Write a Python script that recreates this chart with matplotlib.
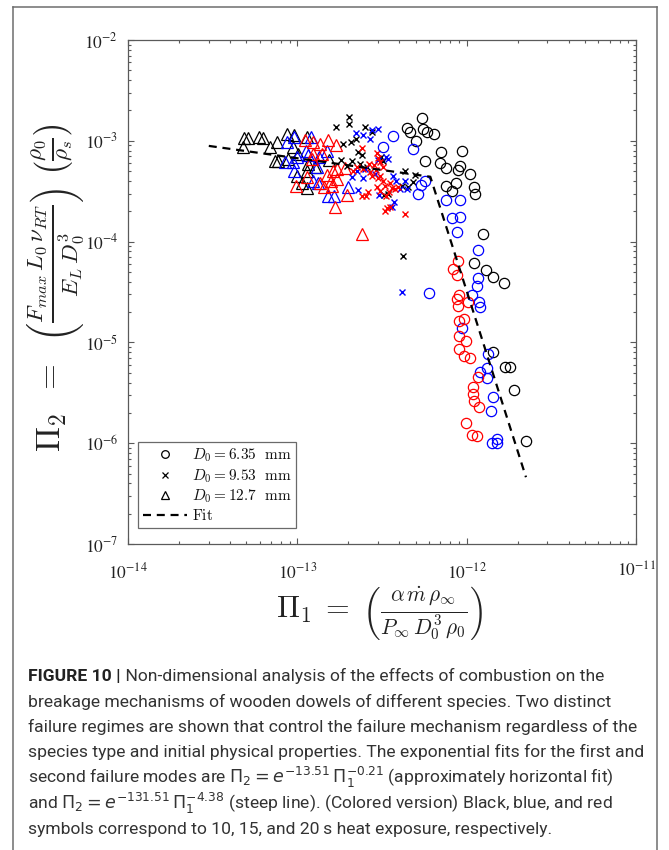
import matplotlib
matplotlib.use("Agg")
import matplotlib.pyplot as plt
from matplotlib.lines import Line2D
from matplotlib.ticker import FixedLocator, FixedFormatter, LogLocator, NullFormatter

# ---------------- data ----------------
# D0 = 6.35 mm (circles)
pi1_d635_10s = [5.45e-13, 4.45e-13, 4.63e-13, 5.53e-13, 5.84e-13, 6.42e-13, 5.02e-13, 7.06e-13, 9.4e-13, 5.68e-13,
                6.96e-13, 7.56e-13, 9.14e-13, 8.9e-13, 1.05e-12, 7.56e-13, 8.65e-13, 8.2e-13, 1.11e-12, 1.12e-12,
                1.25e-12, 1.11e-12, 1.30e-12, 1.43e-12, 1.66e-12, 1.43e-12, 1.69e-12, 1.80e-12, 1.91e-12, 2.24e-12]
pi2_d635_10s = [1.68e-3, 1.34e-3, 1.22e-3, 1.31e-3, 1.22e-3, 1.17e-3, 1.0e-3, 7.7e-4, 7.9e-4, 6.3e-4,
                6.0e-4, 5.4e-4, 5.6e-4, 5.1e-4, 4.7e-4, 3.6e-4, 3.8e-4, 3.2e-4, 3.5e-4, 3.0e-4,
                1.19e-4, 6.1e-5, 5.2e-5, 4.5e-5, 3.9e-5, 8.0e-6, 5.7e-6, 5.7e-6, 3.4e-6, 1.05e-6]
pi1_d635_15s = [3.68e-13, 3.21e-13, 4.82e-13, 5.68e-13, 5.38e-13, 5.16e-13, 7.56e-13, 9.14e-13, 8.2e-13, 9.14e-13,
                8.77e-13, 1.17e-12, 1.17e-12, 1.15e-12, 1.08e-12, 1.18e-12, 1.20e-12, 6.0e-13, 9.4e-13, 1.34e-12,
                1.32e-12, 1.20e-12, 1.32e-12, 1.43e-12, 1.39e-12, 1.51e-12, 1.41e-12, 1.51e-12]
pi2_d635_15s = [1.12e-3, 8.7e-4, 8.3e-4, 4.0e-4, 3.65e-4, 3.0e-4, 2.6e-4, 2.6e-4, 1.7e-4, 1.75e-4,
                1.25e-4, 8.3e-5, 4.35e-5, 3.6e-5, 2.95e-5, 2.5e-5, 2.25e-5, 3.1e-5, 1.39e-5, 7.7e-6,
                5.6e-6, 5.1e-6, 4.4e-6, 2.9e-6, 2.1e-6, 1.1e-6, 1.0e-6, 1.0e-6]
pi1_d635_20s = [9.0e-13, 8.77e-13, 1.02e-12, 8.9e-13, 9.0e-13, 9.66e-13, 9.0e-13, 9.9e-13, 9.0e-13, 9.66e-13,
                1.05e-12, 1.17e-12, 1.09e-12, 1.09e-12, 1.11e-12, 1.18e-12, 9.9e-13, 1.08e-12, 1.15e-12, 8.9e-13,
                8.3e-13, 8.77e-13]
pi2_d635_20s = [2.95e-5, 2.7e-5, 2.5e-5, 2.3e-5, 1.63e-5, 1.7e-5, 1.16e-5, 1.03e-5, 8.6e-6, 7.3e-6,
                7.0e-6, 4.5e-6, 3.6e-6, 3.1e-6, 2.6e-6, 2.3e-6, 1.6e-6, 1.2e-6, 1.18e-6, 6.4e-5,
                5.3e-5, 4.7e-5]

# D0 = 9.53 mm (crosses)
pi1_d953_10s = [2.02e-13, 2.02e-13, 1.69e-13, 2.51e-13, 2.76e-13, 1.86e-13, 2.08e-13, 2.22e-13, 2.28e-13, 2.41e-13,
                1.81e-13, 2.10e-13, 1.96e-13, 2.35e-13, 2.58e-13, 3.12e-13, 3.21e-13, 4.33e-13, 4.96e-13, 4.15e-13,
                4.51e-13, 4.82e-13, 3.44e-13, 3.25e-13, 4.21e-13]
pi2_d953_10s = [1.72e-3, 1.47e-3, 1.37e-3, 1.37e-3, 1.22e-3, 9.3e-4, 9.7e-4, 1.04e-3, 7.7e-4, 7.2e-4,
                6.45e-4, 6.3e-4, 5.6e-4, 5.9e-4, 5.5e-4, 6.9e-4, 6.3e-4, 5.0e-4, 4.6e-4, 3.6e-4,
                3.5e-4, 3.9e-4, 3.0e-4, 2.9e-4, 7.2e-5]
pi1_d953_15s = [2.22e-13, 2.44e-13, 2.76e-13, 3.0e-13, 2.69e-13, 3.34e-13, 3.44e-13, 3.0e-13, 2.10e-13, 2.25e-13,
                2.51e-13, 2.88e-13, 2.44e-13, 3.68e-13, 3.83e-13, 4.33e-13, 4.45e-13, 4.04e-13, 2.28e-13, 3.04e-13,
                3.73e-13, 3.63e-13, 4.15e-13]
pi2_d953_15s = [1.19e-3, 1.14e-3, 1.28e-3, 1.31e-3, 1.04e-3, 6.9e-4, 6.6e-4, 6.45e-4, 4.4e-4, 5.0e-4,
                5.25e-4, 4.7e-4, 4.3e-4, 4.5e-4, 4.0e-4, 4.0e-4, 3.3e-4, 3.3e-4, 3.25e-4, 2.9e-4,
                2.45e-4, 2.2e-4, 3.16e-5]
pi1_d953_20s = [2.41e-13, 2.25e-13, 2.13e-13, 2.44e-13, 2.65e-13, 2.96e-13, 3.0e-13, 3.08e-13, 2.84e-13, 3.21e-13,
                2.92e-13, 2.69e-13, 2.76e-13, 3.0e-13, 3.08e-13, 3.21e-13, 3.3e-13, 3.53e-13, 3.63e-13, 3.78e-13,
                3.94e-13, 3.48e-13, 3.34e-13, 3.08e-13, 2.96e-13, 2.62e-13, 2.41e-13, 2.55e-13, 3.39e-13, 3.53e-13,
                3.3e-13, 4.33e-13]
pi2_d953_20s = [8.5e-4, 5.5e-4, 5.0e-4, 5.25e-4, 5.9e-4, 7.6e-4, 6.8e-4, 6.2e-4, 5.75e-4, 5.5e-4,
                5.1e-4, 4.9e-4, 4.5e-4, 4.3e-4, 4.5e-4, 4.0e-4, 3.6e-4, 3.8e-4, 3.4e-4, 3.3e-4,
                3.5e-4, 3.1e-4, 2.85e-4, 3.2e-4, 3.5e-4, 3.1e-4, 2.85e-4, 2.85e-4, 2.15e-4, 2.2e-4,
                2.0e-4, 1.9e-4]

# D0 = 12.7 mm (triangles)
pi1_d127_10s = [4.84e-14, 5.1e-14, 4.8e-14, 5.9e-14, 6.3e-14, 7.6e-14, 6.9e-14, 7.4e-14, 8.7e-14, 9.6e-14,
                1.14e-13, 9.4e-14, 1.01e-13, 1.16e-13, 1.14e-13, 1.0e-13, 1.07e-13, 1.14e-13, 1.54e-13, 8.8e-14,
                1.27e-13, 7.7e-14]
pi2_d127_10s = [1.07e-3, 1.07e-3, 8.7e-4, 1.09e-3, 1.07e-3, 9.7e-4, 8.7e-4, 6.3e-4, 1.17e-3, 1.14e-3,
                1.09e-3, 8.7e-4, 7.4e-4, 5.9e-4, 5.0e-4, 4.5e-4, 3.8e-4, 3.4e-4, 6.45e-4, 6.6e-4,
                5.5e-4, 6.3e-4]
pi1_d127_15s = [8.7e-14, 9.6e-14, 1.2e-13, 1.12e-13, 1.0e-13, 8.5e-14, 9.4e-14, 9.6e-14, 1.31e-13, 1.24e-13,
                1.5e-13, 1.34e-13, 1.52e-13, 1.65e-13, 1.99e-13, 1.32e-13, 1.16e-13]
pi2_d127_15s = [9.7e-4, 1.09e-3, 1.09e-3, 7.9e-4, 6.9e-4, 6.1e-4, 6.1e-4, 5.0e-4, 5.5e-4, 4.0e-4,
                7.9e-4, 6.9e-4, 2.85e-4, 2.85e-4, 3.5e-4, 3.8e-4, 7.2e-4]
pi1_d127_20s = [1.11e-13, 1.24e-13, 1.36e-13, 1.52e-13, 1.69e-13, 1.24e-13, 1.40e-13, 1.22e-13, 1.91e-13, 1.71e-13,
                1.63e-13, 1.50e-13, 1.71e-13, 1.58e-13, 1.14e-13, 9.8e-14, 1.60e-13, 1.44e-13, 1.36e-13, 1.96e-13,
                1.67e-13, 2.41e-13]
pi2_d127_20s = [1.02e-3, 9.7e-4, 9.3e-4, 1.02e-3, 9.1e-4, 7.4e-4, 7.4e-4, 6.6e-4, 5.4e-4, 5.25e-4,
                5.0e-4, 4.6e-4, 4.2e-4, 4.0e-4, 4.4e-4, 3.6e-4, 3.6e-4, 3.5e-4, 3.8e-4, 2.9e-4,
                2.2e-4, 1.2e-4]

# Fit line (two regimes), vertices
fit_pi1 = [3.0e-14, 6.1e-13, 2.24e-12]
fit_pi2 = [8.9e-4, 4.4e-4, 4.6e-7]

x_ticks = [1e-14, 1e-13, 1e-12, 1e-11]
x_tick_labels = [r"$10^{-14}$", r"$10^{-13}$", r"$10^{-12}$", r"$10^{-11}$"]
y_ticks = [1e-7, 1e-6, 1e-5, 1e-4, 1e-3, 1e-2]
y_tick_labels = [r"$10^{-7}$", r"$10^{-6}$", r"$10^{-5}$", r"$10^{-4}$", r"$10^{-3}$", r"$10^{-2}$"]

legend_labels = [r"$D_0 = 6.35\ \ \mathrm{mm}$", r"$D_0 = 9.53\ \ \mathrm{mm}$",
                 r"$D_0 = 12.7\ \ \mathrm{mm}$", r"$\mathrm{Fit}$"]

caption_head = "FIGURE 10 |"
caption_lines = [
    " Non-dimensional analysis of the effects of combustion on the",
    "breakage mechanisms of wooden dowels of different species. Two distinct",
    "failure regimes are shown that control the failure mechanism regardless of the",
    "species type and initial physical properties. The exponential fits for the first and",
    r"second failure modes are $\Pi_2 = e^{-13.51}\,\Pi_1^{-0.21}$ (approximately horizontal fit)",
    r"and $\Pi_2 = e^{-131.51}\,\Pi_1^{-4.38}$ (steep line). (Colored version) Black, blue, and red",
    "symbols correspond to 10, 15, and 20\u2009s heat exposure, respectively.",
]

# ---------------- figure ----------------
W, H = 669, 850
fig = plt.figure(figsize=(W / 100, H / 100), dpi=100)
fig.patch.set_facecolor("white")

ax_l, ax_r, ax_t, ax_b = 128, 636, 40, 544
ax = fig.add_axes([ax_l / W, 1 - ax_b / H, (ax_r - ax_l) / W, (ax_b - ax_t) / H])
ax.set_xscale("log")
ax.set_yscale("log")
ax.set_xlim(1e-14, 1e-11)
ax.set_ylim(1e-7, 1e-2)

colors = {"10": "#000000", "15": "#0000ff", "20": "#ff0000"}
circ = dict(marker="o", ms=7.4, mfc="none", mew=0.9, ls="none")
cross = dict(marker="x", ms=4.8, mew=1.0, ls="none")
tri = dict(marker="^", ms=8.0, mfc="none", mew=0.9, ls="none")

ax.plot(pi1_d127_10s, pi2_d127_10s, color=colors["10"], **tri)
ax.plot(pi1_d127_15s, pi2_d127_15s, color=colors["15"], **tri)
ax.plot(pi1_d127_20s, pi2_d127_20s, color=colors["20"], **tri)
ax.plot(pi1_d953_10s, pi2_d953_10s, color=colors["10"], **cross)
ax.plot(pi1_d953_15s, pi2_d953_15s, color=colors["15"], **cross)
ax.plot(pi1_d953_20s, pi2_d953_20s, color=colors["20"], **cross)
ax.plot(pi1_d635_10s, pi2_d635_10s, color=colors["10"], **circ)
ax.plot(pi1_d635_15s, pi2_d635_15s, color=colors["15"], **circ)
ax.plot(pi1_d635_20s, pi2_d635_20s, color=colors["20"], **circ)
ax.plot(fit_pi1, fit_pi2, color="black", lw=1.6, ls=(0, (3.6, 2.6)))

# axes styling (MATLAB-like)
spine_c = "#5a5a5a"
for s in ax.spines.values():
    s.set_color(spine_c)
    s.set_linewidth(0.9)
ax.xaxis.set_major_locator(FixedLocator(x_ticks))
ax.xaxis.set_major_formatter(FixedFormatter(x_tick_labels))
ax.yaxis.set_major_locator(FixedLocator(y_ticks))
ax.yaxis.set_major_formatter(FixedFormatter(y_tick_labels))
ax.xaxis.set_minor_locator(LogLocator(base=10, subs=range(2, 10), numticks=20))
ax.yaxis.set_minor_locator(LogLocator(base=10, subs=range(2, 10), numticks=20))
ax.xaxis.set_minor_formatter(NullFormatter())
ax.yaxis.set_minor_formatter(NullFormatter())
ax.tick_params(which="both", direction="in", top=True, right=True, color=spine_c, width=0.8)
ax.tick_params(which="major", length=4.5)
ax.tick_params(which="minor", length=2.5)
ax.tick_params(axis="x", which="major", pad=13, labelsize=12.5, labelcolor="#222222")
ax.tick_params(axis="y", which="major", pad=7, labelsize=12.5, labelcolor="#222222")
for t in ax.get_xticklabels() + ax.get_yticklabels():
    t.set_math_fontfamily("stix")

# legend
handles = [
    Line2D([], [], color="black", marker="o", ms=5.5, mfc="none", mew=0.9, ls="none"),
    Line2D([], [], color="black", marker="x", ms=4.0, mew=0.9, ls="none"),
    Line2D([], [], color="black", marker="^", ms=6.0, mfc="none", mew=0.9, ls="none"),
    Line2D([], [], color="black", lw=1.6, ls=(0, (3.6, 2.6))),
]
leg = ax.legend(handles, legend_labels, loc="lower left", bbox_to_anchor=(0.02, 0.032),
                borderaxespad=0, frameon=True, fancybox=False, framealpha=1,
                edgecolor="#6a6a6a", fontsize=11, handlelength=2.9, handletextpad=0.3,
                labelspacing=0.2, borderpad=0.3)
leg.get_frame().set_linewidth(0.9)
for t in leg.get_texts():
    t.set_math_fontfamily("cm")
    t.set_color("#111111")

# axis labels
fig.text(56 / W, 1 - 288 / H,
         r"$\Pi_2\;\;=\;\;\left(\frac{F_{max}\,L_0\,\nu_{RT}}{E_L\,D_0^3}\right)\;\left(\frac{\rho_0}{\rho_s}\right)$",
         rotation=90, ha="center", va="center", fontsize=24, math_fontfamily="cm", color="#222222")
fig.text(379 / W, 1 - 613 / H,
         r"$\Pi_1\;=\;\left(\frac{\alpha\,\dot{m}\,\rho_\infty}{P_\infty\,D_0^3\,\rho_0}\right)$",
         ha="center", va="center", fontsize=22, math_fontfamily="cm", color="#222222")

# outer frame
frame_c = "#6e6e6e"
fx0, fx1, fy0 = 13 / W, 657 / W, 1 - 7 / H
fig.add_artist(Line2D([fx0, fx0], [0, fy0], transform=fig.transFigure, color=frame_c, lw=1.1))
fig.add_artist(Line2D([fx1, fx1], [0, fy0], transform=fig.transFigure, color=frame_c, lw=1.1))
fig.add_artist(Line2D([fx0, fx1], [fy0, fy0], transform=fig.transFigure, color=frame_c, lw=1.1))

# caption
cap_family = ["Roboto", "DejaVu Sans"]
renderer = fig.canvas.get_renderer()
probe = fig.text(0, 0, caption_lines[3], fontsize=12, family=cap_family)
w_probe = probe.get_window_extent(renderer).width
probe.remove()
cap_size = 12 * 613 / w_probe
cap_color = "#333333"
x0 = 28 / W
baselines = [681, 706.5, 732, 757.5, 783, 808.5, 834]
head = fig.text(x0, 1 - baselines[0] / H, caption_head, fontsize=cap_size, family=cap_family,
                fontweight="bold", color="#222222", va="baseline")
hw = head.get_window_extent(renderer).width
fig.text(x0 + hw / W, 1 - baselines[0] / H, caption_lines[0], fontsize=cap_size, family=cap_family,
         color=cap_color, va="baseline")
for line, yb in zip(caption_lines[1:], baselines[1:]):
    fig.text(x0, 1 - yb / H, line, fontsize=cap_size, family=cap_family, color=cap_color,
             va="baseline", math_fontfamily="dejavusans")

fig.savefig("out.png", dpi=100)
